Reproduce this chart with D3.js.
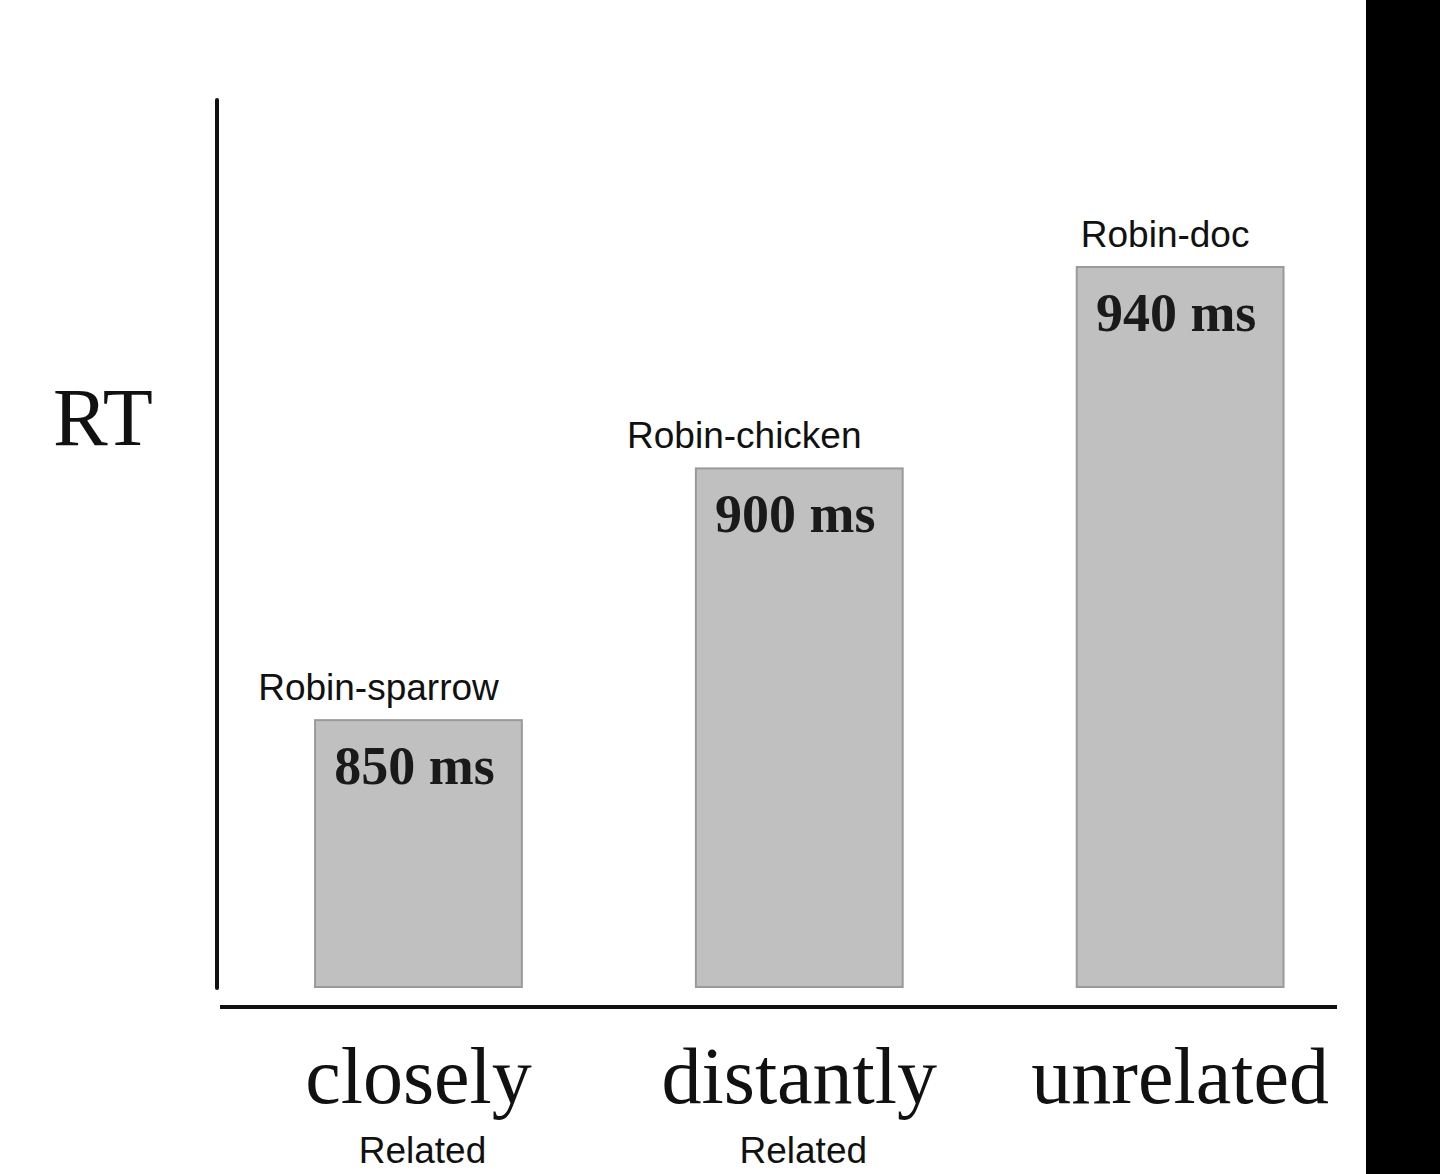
<!DOCTYPE html>
<html>
<head>
<meta charset="utf-8">
<script src="https://cdn.jsdelivr.net/npm/d3@7"></script>
<style>
  body { margin: 0; background: #fff; }
  svg { display: block; }
</style>
</head>
<body>
<div id="chart"></div>
<script>
// data
const categories = ['closely', 'distantly', 'unrelated'];
const subLabels = ['Related', 'Related', ''];
const pairs = ['Robin-sparrow', 'Robin-chicken', 'Robin-doc'];
const rtValues = [850, 900, 940];

const width = 1440;
const height = 1174;
const baseY = 987;

const svg = d3
  .select('#chart')
  .append('svg')
  .attr('width', width)
  .attr('height', height);

svg.append('rect').attr('width', width).attr('height', height).attr('fill', '#fff');

// black strip at the right edge of the scan
svg.append('rect').attr('x', 1366).attr('y', 0).attr('width', width - 1366).attr('height', height).attr('fill', '#000');

const xScale = d3
  .scaleBand()
  .domain(categories)
  .range([220, 1337])
  .paddingInner(0.457)
  .paddingOuter(0.195)
  .align(0.64);

const yScale = d3.scaleLinear().domain([797, 940]).range([baseY, 267]);

const data = categories.map((c, i) => ({ cat: c, sub: subLabels[i], pair: pairs[i], v: rtValues[i] }));

// axes (plain lines, no ticks)
svg.append('line')
  .attr('x1', 217).attr('x2', 217)
  .attr('y1', 100).attr('y2', 988)
  .attr('stroke', '#111').attr('stroke-width', 4).attr('stroke-linecap', 'round');
svg.append('line')
  .attr('x1', 220).attr('x2', 1337)
  .attr('y1', 1007).attr('y2', 1007)
  .attr('stroke', '#111').attr('stroke-width', 4);

// bars
svg.selectAll('.bar')
  .data(data)
  .join('rect')
  .attr('class', 'bar')
  .attr('x', (d) => xScale(d.cat))
  .attr('y', (d) => yScale(d.v))
  .attr('width', xScale.bandwidth())
  .attr('height', (d) => baseY - yScale(d.v))
  .attr('fill', '#c0c0c0')
  .attr('stroke', '#9a9a9a')
  .attr('stroke-width', 2);

// value labels inside bars
svg.selectAll('.val')
  .data(data)
  .join('text')
  .attr('class', 'val')
  .attr('x', (d) => xScale(d.cat) + xScale.bandwidth() / 2 - 4)
  .attr('y', (d) => yScale(d.v) + 64)
  .attr('text-anchor', 'middle')
  .style('font-family', '"Liberation Serif", "Times New Roman", serif')
  .style('font-weight', 'bold')
  .style('font-size', '54px')
  .attr('fill', '#1a1a1a')
  .text((d) => `${d.v} ms`);

// word pair labels above bars
const pairNudge = [-40, -55, -15];
svg.selectAll('.pair')
  .data(data)
  .join('text')
  .attr('class', 'pair')
  .attr('x', (d, i) => xScale(d.cat) + xScale.bandwidth() / 2 + pairNudge[i])
  .attr('y', (d) => yScale(d.v) - 20)
  .attr('text-anchor', 'middle')
  .style('font-family', '"Liberation Sans", Arial, sans-serif')
  .style('font-size', '37px')
  .attr('fill', '#111')
  .text((d) => d.pair);

// category labels
svg.selectAll('.cat')
  .data(data)
  .join('text')
  .attr('class', 'cat')
  .attr('x', (d) => xScale(d.cat) + xScale.bandwidth() / 2)
  .attr('y', 1103)
  .attr('text-anchor', 'middle')
  .style('font-family', '"Liberation Serif", "Times New Roman", serif')
  .style('font-size', '80px')
  .attr('fill', '#111')
  .text((d) => d.cat);

svg.selectAll('.sub')
  .data(data.filter((d) => d.sub))
  .join('text')
  .attr('class', 'sub')
  .attr('x', (d) => xScale(d.cat) + xScale.bandwidth() / 2 + 4)
  .attr('y', 1163)
  .attr('text-anchor', 'middle')
  .style('font-family', '"Liberation Sans", Arial, sans-serif')
  .style('font-size', '37px')
  .attr('fill', '#111')
  .text((d) => d.sub);

// y-axis name
svg.append('text')
  .attr('x', 103)
  .attr('y', 445)
  .attr('text-anchor', 'middle')
  .style('font-family', '"Liberation Serif", "Times New Roman", serif')
  .style('font-size', '82px')
  .attr('fill', '#111')
  .text('RT');
</script>
</body>
</html>
